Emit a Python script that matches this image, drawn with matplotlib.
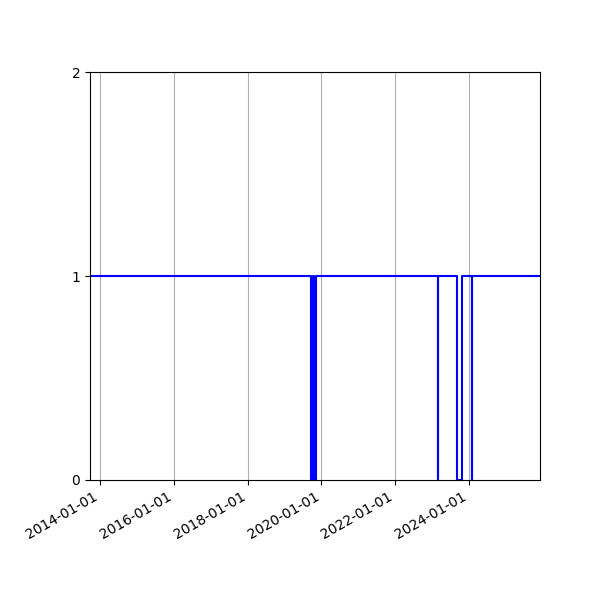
import matplotlib
matplotlib.use("Agg")
import matplotlib.pyplot as plt
import matplotlib.dates as mdates
import pandas as pd

# change points of the status series (value holds until next date)
dates = ["2013-09-24", "2019-09-24", "2019-10-08", "2019-10-22", "2019-11-06",
         "2023-02-25", "2023-02-28", "2023-09-10", "2023-10-20",
         "2024-01-27", "2024-01-30", "2025-12-05"]
values = [1, 0, 1, 0, 1, 0, 1, 0, 1, 0, 1, 1]

x = pd.to_datetime(dates)

fig, ax = plt.subplots(figsize=(6, 6), dpi=100)
ax.plot(x, values, drawstyle="steps-post", color="blue", linewidth=1.5)
ax.set_xlim(x[0], x[-1])
ax.set_ylim(0, 2)
ax.set_yticks([0, 1, 2])
ax.xaxis.set_major_locator(mdates.YearLocator(2))
ax.xaxis.set_major_formatter(mdates.DateFormatter("%Y-%m-%d"))
ax.grid(True, axis="x")
fig.autofmt_xdate()
fig.subplots_adjust(left=0.15, right=0.9, top=0.88, bottom=0.2)
fig.savefig("out.png")
